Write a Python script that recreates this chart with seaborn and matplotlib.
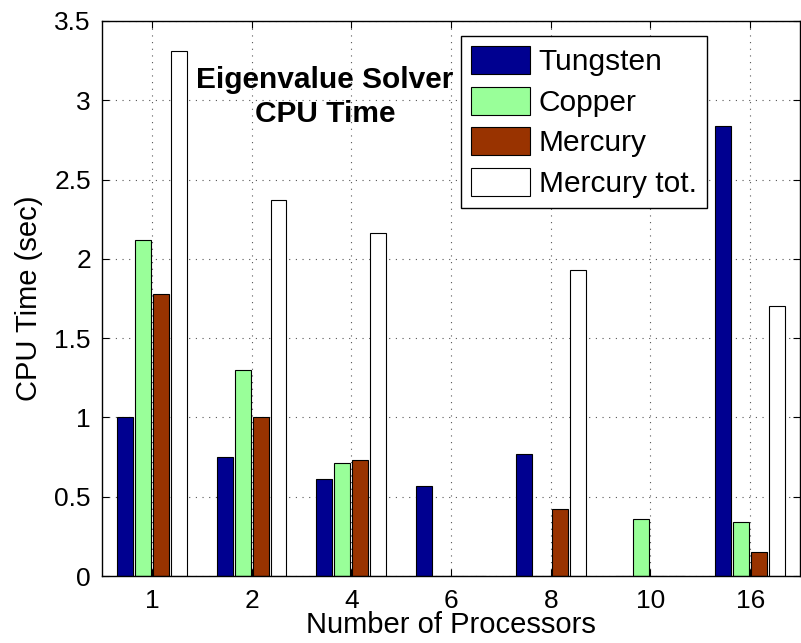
import matplotlib
matplotlib.use("Agg")
import matplotlib.pyplot as plt
import seaborn as sns
import pandas as pd

processors = ["1", "2", "4", "6", "8", "10", "16"]
series = ["Tungsten", "Copper", "Mercury", "Mercury tot."]
tungsten = [1.00, 0.75, 0.61, 0.57, 0.77, 0.00, 2.84]
copper = [2.12, 1.30, 0.71, 0.00, 0.00, 0.36, 0.34]
mercury = [1.78, 1.00, 0.73, 0.00, 0.42, 0.00, 0.15]
mercury_tot = [3.31, 2.37, 2.16, 0.00, 1.93, 0.00, 1.70]
colors = ["#000090", "#99FF99", "#993300", "#FFFFFF"]
yticks = [0, 0.5, 1, 1.5, 2, 2.5, 3, 3.5]
ytick_labels = ["0", "0.5", "1", "1.5", "2", "2.5", "3", "3.5"]

rows = []
for name, vals in zip(series, [tungsten, copper, mercury, mercury_tot]):
    for p, v in zip(processors, vals):
        rows.append({"Processors": p, "Series": name, "CPU": v})
df = pd.DataFrame(rows)

sns.set_style("ticks")
plt.rcParams["font.family"] = ["Liberation Sans", "DejaVu Sans"]
plt.rcParams["text.color"] = "black"
plt.rcParams["axes.labelcolor"] = "black"
plt.rcParams["xtick.color"] = "black"
plt.rcParams["ytick.color"] = "black"

fig = plt.figure(figsize=(8.01, 6.43), dpi=100)
ax = fig.add_axes([102 / 801, 1 - 576 / 643, 698 / 801, 555 / 643])

sns.barplot(data=df, x="Processors", y="CPU", hue="Series",
            order=processors, hue_order=series, palette=colors,
            width=0.72, gap=0.11, edgecolor="black", linewidth=0.8,
            saturation=1, errorbar=None, ax=ax, legend=True)

ax.set_xlim(-0.5, 6.5)
ax.set_ylim(0, 3.5)
ax.set_yticks(yticks)
ax.set_yticklabels(ytick_labels)
ax.set_axisbelow(True)
ax.grid(True, linestyle=(0, (1, 5)), color="#555555", linewidth=0.8)
for s in ax.spines.values():
    s.set_visible(True)
    s.set_color("black")
    s.set_linewidth(1.0)
ax.tick_params(direction="in", top=True, right=True, length=5, width=0.8,
               labelsize=19, colors="black")
ax.tick_params(axis="x", pad=9)
ax.tick_params(axis="y", pad=8)

ax.set_xlabel("Number of Processors", fontsize=21, labelpad=-1, color="black")
ax.set_ylabel("CPU Time (sec)", fontsize=21, labelpad=8, color="black")

ax.text(325 / 801, 1 - 97 / 643, "Eigenvalue Solver\nCPU Time",
        transform=fig.transFigure, ha="center", va="center",
        fontsize=21.5, fontweight="bold", linespacing=1.3, color="black")

handles, labels = ax.get_legend_handles_labels()
leg = ax.legend(handles, labels, loc="upper right",
                bbox_to_anchor=(707 / 801, 1 - 36 / 643),
                bbox_transform=fig.transFigure, borderaxespad=0,
                fontsize=21.5, frameon=True, fancybox=False,
                handlelength=1.95, handleheight=1.05, labelspacing=0.35,
                handletextpad=0.3, borderpad=0.35, title=None)
leg.get_frame().set_edgecolor("black")
leg.get_frame().set_linewidth(1.0)
leg.get_frame().set_alpha(1)
for t in leg.get_texts():
    t.set_color("black")

fig.savefig("out.png", dpi=100)
